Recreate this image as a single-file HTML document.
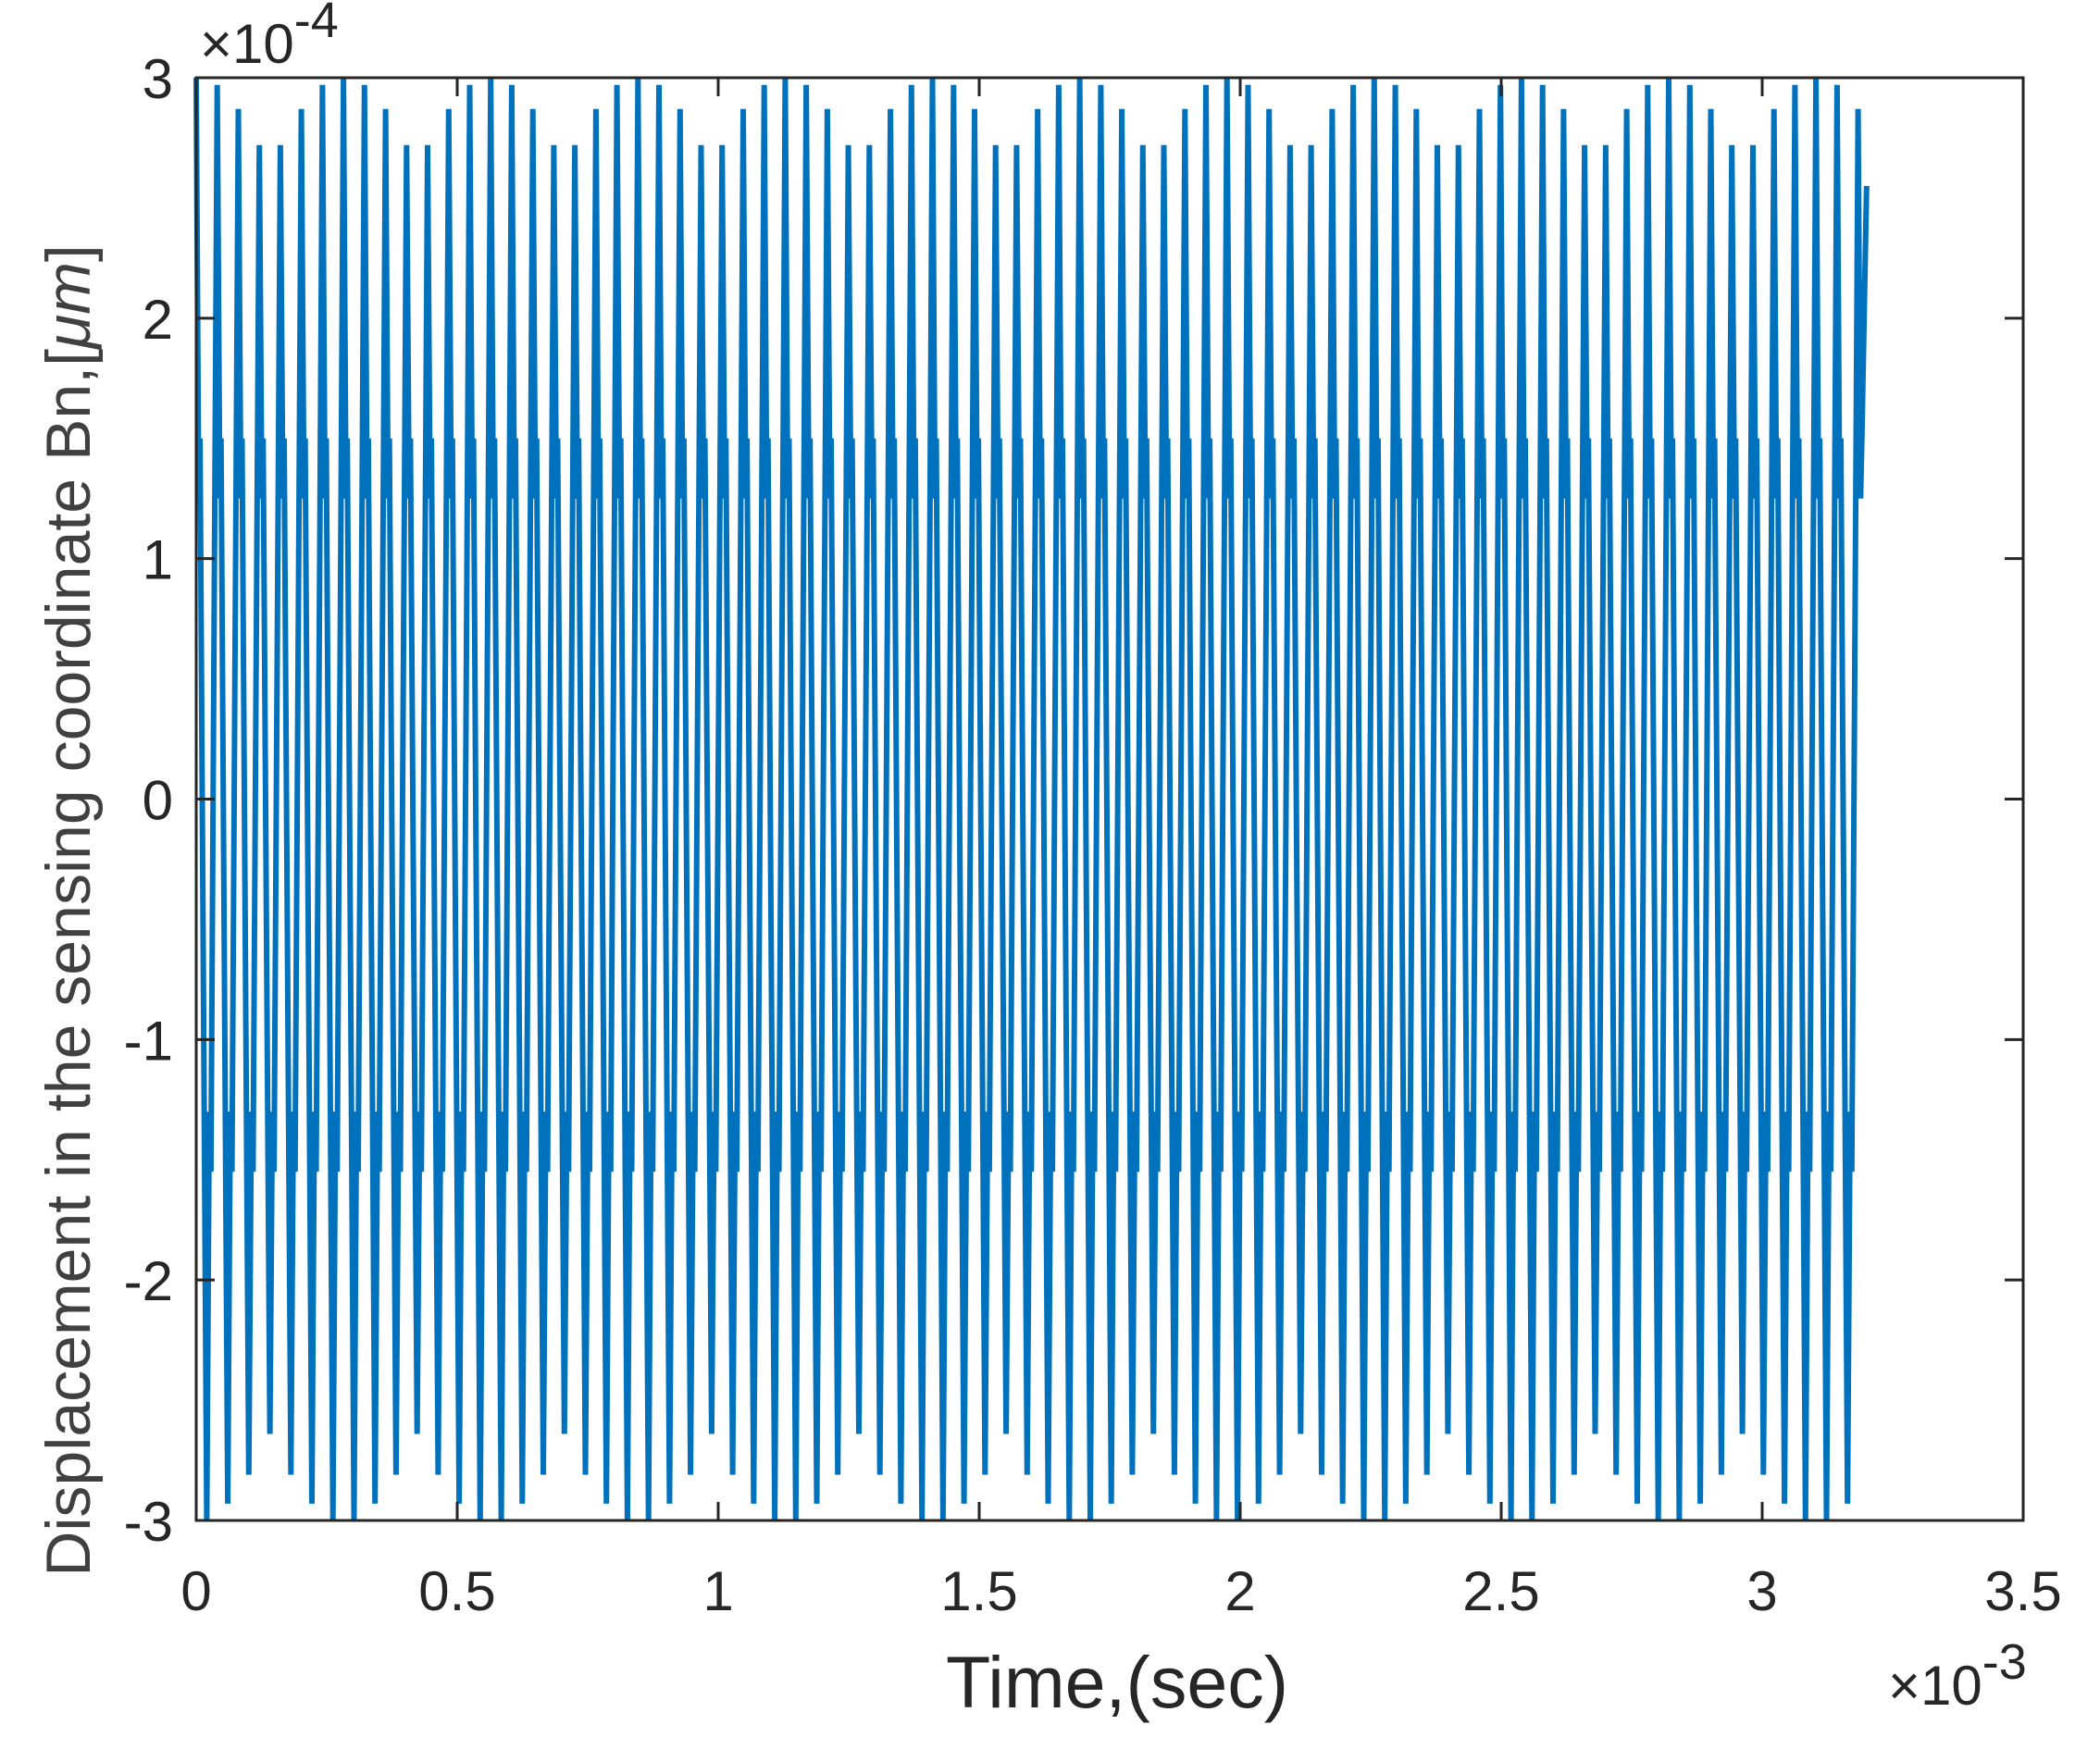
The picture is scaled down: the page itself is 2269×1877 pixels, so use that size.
<!DOCTYPE html>
<html><head><meta charset="utf-8"><style>
html,body{margin:0;padding:0;background:#fff;}
svg{display:block;font-family:"Liberation Sans",Arial,sans-serif;}
</style></head><body>
<svg id="chart" width="2269" height="1877" viewBox="0 0 2269 1877" xmlns="http://www.w3.org/2000/svg">
<rect x="0" y="0" width="2269" height="1877" fill="#fff"/>
<g id="plot"></g>
<g id="axes"></g>
<text transform="translate(97,984) rotate(-90)" text-anchor="middle" font-size="68" fill="#404040">Displacement in the sensing coordinate Bn,[<tspan font-style="italic">μm</tspan>]</text>
<text x="1207" y="1845" text-anchor="middle" font-size="79" fill="#262626">Time,(sec)</text>
<text x="2040" y="1842" font-size="60" fill="#262626">×10<tspan dy="-28" font-size="54">-3</tspan></text>
<text x="216" y="68" font-size="60" fill="#262626">×10<tspan dy="-28" font-size="54">-4</tspan></text>
</svg>
<script>
const xTicks = [0, 0.5, 1, 1.5, 2, 2.5, 3, 3.5];
const xTickLabels = ["0", "0.5", "1", "1.5", "2", "2.5", "3", "3.5"];
const yTicks = [-3, -2, -1, 0, 1, 2, 3];
const yTickLabels = ["-3", "-2", "-1", "0", "1", "2", "3"];
const cyclePeriodMs = 0.0403;
const endTimeMs = 3.2;
const endValue = 2.55;
const kneeHigh = [1.25, 1.5];
const kneeLow = [-1.3, -1.55];
const maxVals = [
3.0,2.97,2.87,2.72,2.72,2.87,2.97, 3.0,2.97,2.87,2.72,2.72,2.87,2.97,
3.0,2.97,2.87,2.72,2.72,2.87,2.97, 3.0,2.97,2.87,2.72,2.72,2.87,2.97,
3.0,2.97,2.87,2.72,2.72,2.87,2.97, 3.0,2.97,2.87,2.72,2.72,2.87,2.97,
3.0,2.97,2.87,2.72,2.72,2.87,2.97, 3.0,2.97,2.87,2.72,2.72,2.87,2.97,
3.0,2.97,2.87,2.72,2.72,2.87,2.97, 3.0,2.97,2.87,2.72,2.72,2.87,2.97,
3.0,2.97,2.87,2.72,2.72,2.87,2.97, 3.0,2.97,2.87];
const minVals = [
-3.0,-2.93,-2.81,-2.64,-2.81,-2.93,-3.0, -3.0,-2.93,-2.81,-2.64,-2.81,-2.93,-3.0,
-3.0,-2.93,-2.81,-2.64,-2.81,-2.93,-3.0, -3.0,-2.93,-2.81,-2.64,-2.81,-2.93,-3.0,
-3.0,-2.93,-2.81,-2.64,-2.81,-2.93,-3.0, -3.0,-2.93,-2.81,-2.64,-2.81,-2.93,-3.0,
-3.0,-2.93,-2.81,-2.64,-2.81,-2.93,-3.0, -3.0,-2.93,-2.81,-2.64,-2.81,-2.93,-3.0,
-3.0,-2.93,-2.81,-2.64,-2.81,-2.93,-3.0, -3.0,-2.93,-2.81,-2.64,-2.81,-2.93,-3.0,
-3.0,-2.93,-2.81,-2.64,-2.81,-2.93,-3.0, -3.0,-2.93,-2.81];

const L=212, R=2186, T=84, B=1643;
const xScale = v => L + (v/3.5)*(R-L);
const yScale = v => B - ((v+3)/6)*(B-T);
const NS="http://www.w3.org/2000/svg";
const plot=document.getElementById('plot');
const axes=document.getElementById('axes');

const pts=[];
for(let k=0;k<maxVals.length;k++){
  const t0=k*cyclePeriodMs;
  const seq=[[0,maxVals[k]],[0.12,kneeHigh[0]],[0.18,kneeHigh[1]],[0.5,minVals[k]],[0.62,kneeLow[0]],[0.7,kneeLow[1]]];
  for(const [f,v] of seq){
    const t=t0+f*cyclePeriodMs;
    if(t<=endTimeMs) pts.push([t,v]);
  }
}
pts.push([endTimeMs,endValue]);
const line=document.createElementNS(NS,'polyline');


line.setAttribute('points',pts.map(p=>xScale(p[0]).toFixed(1)+','+yScale(p[1]).toFixed(1)).join(' '));
line.setAttribute('fill','none');
line.setAttribute('stroke','#0072BD');
line.setAttribute('stroke-width','6');
line.setAttribute('stroke-linejoin','bevel');
plot.appendChild(line);

const box=document.createElementNS(NS,'rect');


box.setAttribute('x',L);box.setAttribute('y',T);
box.setAttribute('width',R-L);box.setAttribute('height',B-T);
box.setAttribute('fill','none');box.setAttribute('stroke','#262626');box.setAttribute('stroke-width','3');
axes.appendChild(box);

const tl=20;
xTicks.forEach((v,i)=>{
  const x=xScale(v);
  const p=document.createElementNS(NS,'path');
  
  
  p.setAttribute('d',`M${x},${B}V${B-tl}M${x},${T}V${T+tl}`);
  p.setAttribute('stroke','#262626');p.setAttribute('stroke-width','3');
  axes.appendChild(p);
  const tx=document.createElementNS(NS,'text');
  
  
  tx.setAttribute('x',x);tx.setAttribute('y',B+97);
  tx.setAttribute('text-anchor','middle');tx.setAttribute('font-size','60');tx.setAttribute('fill','#262626');
  tx.textContent=xTickLabels[i];
  axes.appendChild(tx);
});
yTicks.forEach((v,i)=>{
  const y=yScale(v);
  const p=document.createElementNS(NS,'path');
  
  
  p.setAttribute('d',`M${L},${y}H${L+tl}M${R},${y}H${R-tl}`);
  p.setAttribute('stroke','#262626');p.setAttribute('stroke-width','3');
  axes.appendChild(p);
  const tx=document.createElementNS(NS,'text');
  
  
  tx.setAttribute('x',L-25);tx.setAttribute('y',y+22);
  tx.setAttribute('text-anchor','end');tx.setAttribute('font-size','60');tx.setAttribute('fill','#262626');
  tx.textContent=yTickLabels[i];
  axes.appendChild(tx);
});
</script>
</body></html>
